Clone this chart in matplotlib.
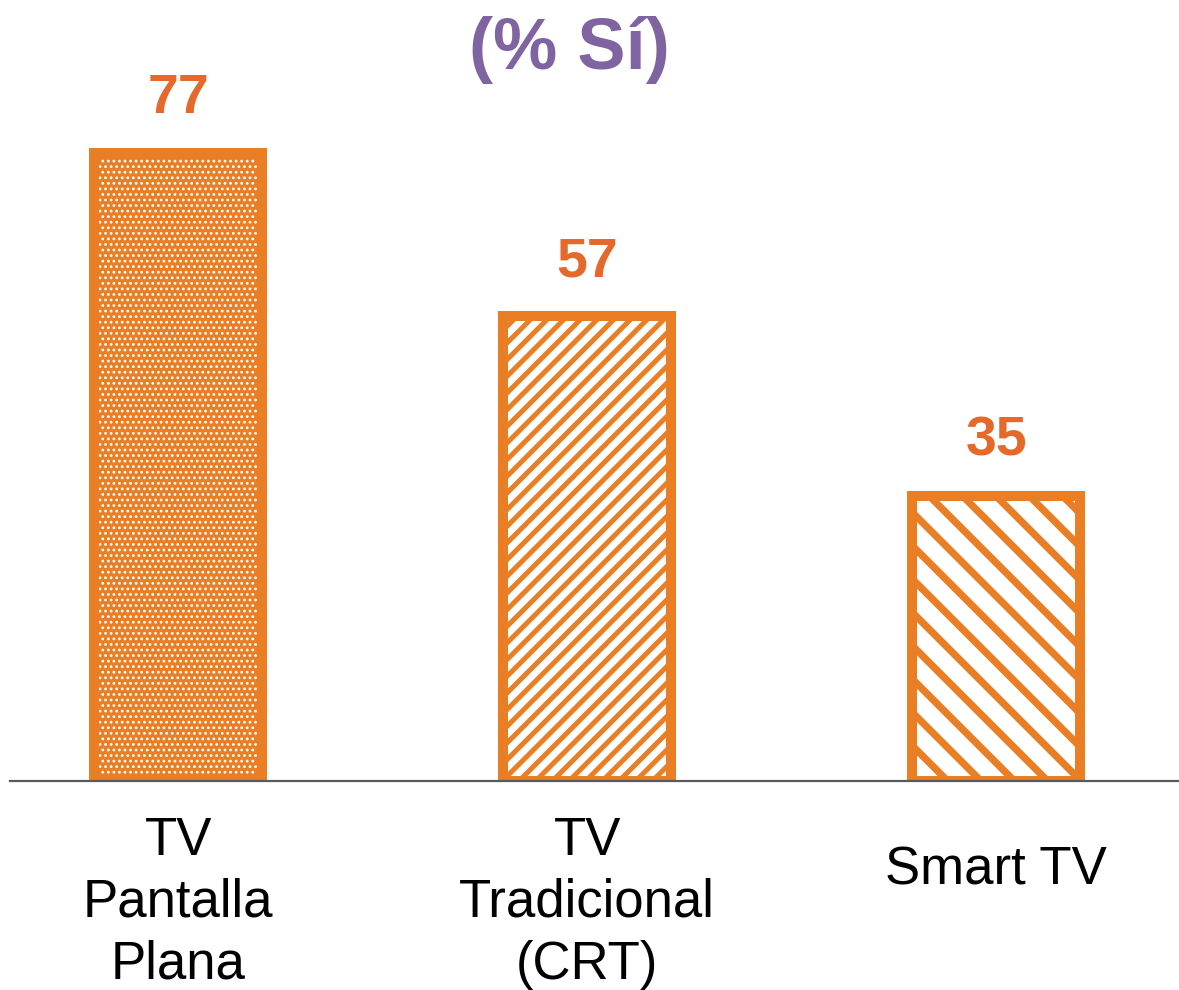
import matplotlib
matplotlib.use("Agg")
import matplotlib.pyplot as plt
import numpy as np

categories = ["TV\nPantalla\nPlana", "TV\nTradicional\n(CRT)", "Smart TV"]
values = [77, 57, 35]
title = "(% Sí)"

orange = "#E97E24"
label_orange = "#E4692A"
purple = "#8064A2"

# per-bar hatch look: (hatch, hatch colour, face colour, hatch width)
hatch_styles = [
    ("......", "white", orange, 0.6),
    ("////", orange, "white", 1.8),
    ("\\\\", orange, "white", 2.6),
]

plt.rcParams["font.family"] = ["Liberation Sans", "DejaVu Sans"]

fig = plt.figure(figsize=(5.895, 4.95), dpi=200)
ax = fig.add_axes([10 / 1179, 209 / 990, 1169 / 1179, 733.5 / 990])

x = np.arange(len(categories))
width = 0.41
for xi, v, (h, hc, fc, hlw) in zip(x, values, hatch_styles):
    with plt.rc_context({"hatch.linewidth": hlw}):
        ax.bar(xi, v, width=width, color=fc, edgecolor=hc, hatch=h,
               linewidth=0, zorder=2)
    ax.bar(xi, v, width=width, fill=False, edgecolor=orange,
           linewidth=3.6, zorder=3)
    ax.annotate(str(v), xy=(xi, v), xytext=(0, 14.5), textcoords="offset points",
                ha="center", va="baseline", fontsize=20, fontweight="bold",
                color=label_orange)

for xi, lab in zip(x, categories):
    n = lab.count("\n") + 1
    ax.annotate(lab, xy=(xi, 0), xycoords=("data", "axes fraction"),
                xytext=(0, -12.5 - (3 - n) * 5.4), textcoords="offset points",
                ha="center", va="top", fontsize=19, color="black",
                linespacing=1.31)

ax.set_xlim(-0.411, 2.447)
ax.set_ylim(0, 90)
ax.set_xticks([])
ax.set_yticks([])
for s in ["top", "right", "left"]:
    ax.spines[s].set_visible(False)
ax.spines["bottom"].set_color("#5a5a5a")
ax.spines["bottom"].set_linewidth(0.8)
ax.spines["bottom"].set_zorder(5)

fig.text(569 / 1179, 1 - 69 / 990, title, ha="center", va="baseline",
         fontsize=26, fontweight="bold", color=purple)

fig.savefig("out.png", dpi=200)
